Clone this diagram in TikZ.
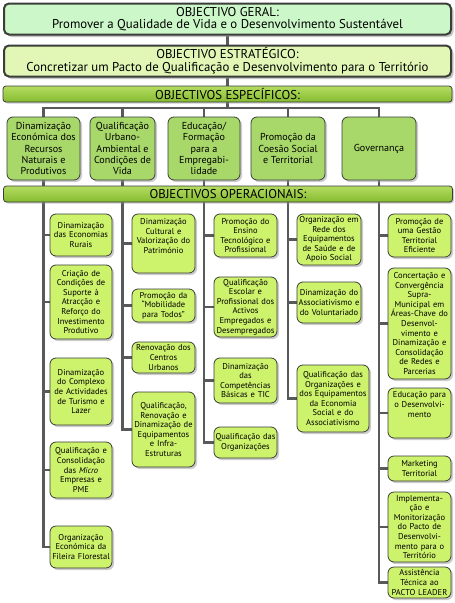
\documentclass[tikz,border=0pt]{standalone}
\usepackage{fontspec}
\setmainfont{PT Sans}
\usepackage{xcolor}
\definecolor{geralFill}{HTML}{CCF7C8}
\definecolor{estratFill}{HTML}{E2F7B6}
\definecolor{barTop}{HTML}{B4DC62}
\definecolor{barBot}{HTML}{86BB30}
\definecolor{specFill}{HTML}{A8D86A}
\definecolor{opFill}{HTML}{CDF26C}
\definecolor{linkGray}{HTML}{58595B}
\definecolor{edgeGray}{HTML}{3A3D38}
\usepackage{tikz}
\usetikzlibrary{shadows, backgrounds}

\newcommand{\boxpad}[1]{\par\rule{0pt}{#1}}

\begin{document}
\begin{tikzpicture}[
    x=1pt, y=-1pt,
    topbox/.style={
        rectangle, rounded corners=5pt, draw=edgeGray, line width=2pt,
        minimum width=447pt, minimum height=31pt, inner sep=1pt,
        align=center, font=\fontsize{12.8}{12.5}\selectfont,
        drop shadow={shadow xshift=2.5pt, shadow yshift=-2.5pt, fill=black!45}
    },
    barbox/.style={
        rectangle, rounded corners=3pt, draw=edgeGray, line width=0.8pt,
        top color=barTop, bottom color=barBot,
        minimum width=449pt, minimum height=16pt, inner sep=0pt,
        font=\fontsize{12.8}{12}\selectfont,
        drop shadow={shadow xshift=1.5pt, shadow yshift=-1.5pt, fill=black!40}
    },
    specbox/.style={
        rectangle, rounded corners=6pt, draw=edgeGray, line width=0.8pt,
        fill=specFill, minimum height=63pt, inner xsep=1pt, inner ysep=2pt,
        align=center, font=\fontsize{10.1}{11.3}\selectfont,
        drop shadow={shadow xshift=2pt, shadow yshift=-2pt, fill=black!40}
    },
    opbox/.style={
        rectangle, rounded corners=6pt, draw=edgeGray, line width=0.8pt,
        fill=opFill, inner xsep=1pt, inner ysep=2pt,
        align=center, font=\fontsize{8.5}{9.6}\selectfont,
        drop shadow={shadow xshift=2pt, shadow yshift=-2pt, fill=black!40}
    },
    link/.style={line width=2.6pt, linkGray}
]
\useasboundingbox (0,0) rectangle (455,603);

%% ---- General and strategic objectives ----
\node[topbox, fill=geralFill]  (og)  at (227.5,19) {OBJECTIVO GERAL:\\Promover a Qualidade de Vida e o Desenvolvimento Sustentável};
\node[topbox, fill=estratFill] (oe)  at (227.5,61) {OBJECTIVO ESTRATÉGICO:\\Concretizar um Pacto de Qualificação e Desenvolvimento para o Território};
\node[barbox]                  (esp) at (227.5,94) {OBJECTIVOS ESPECÍFICOS:};
\coordinate (hub) at (227.5,108);

%% ---- Specific objectives ----
\node[specbox, minimum width=73pt] (sA) at (43.5,148.5)  {Dinamização\\Económica dos\\Recursos\\Naturais e\\Produtivos};
\node[specbox, minimum width=65pt] (sB) at (122.5,148.5) {Qualificação\\Urbano-\\Ambiental e\\Condições de\\Vida};
\node[specbox, minimum width=72pt] (sC) at (204,148.5)   {Educação/\\Formação\\para a\\Empregabi-\\lidade};
\node[specbox, minimum width=74pt] (sD) at (288,148.5)   {Promoção da\\Coesão Social\\e Territorial};
\node[specbox, minimum width=74pt] (sE) at (379,148.5)   {Governança};

\node[barbox] (op) at (228,194) {OBJECTIVOS OPERACIONAIS:};

%% ---- Operational objectives, column 1 ----
\node[opbox, minimum width=62pt, text width=60pt, minimum height=42pt] (o11) at (81,235)   {Dinamização\\das Economias\\Rurais};
\node[opbox, minimum width=62pt, text width=60pt, minimum height=74pt] (o12) at (81,302)   {Criação de\\Condições de\\Suporte à\\Atracção e\\Reforço do\\Investimento\\Produtivo};
\node[opbox, minimum width=62pt, text width=60pt, minimum height=67pt] (o13) at (81,391.5) {Dinamização\\do Complexo\\de Actividades\\de Turismo e\\Lazer};
\node[opbox, minimum width=62pt, text width=60pt, minimum height=56pt] (o14) at (81,470)   {Qualificação e\\Consolidação\\das \textit{Micro}\\Empresas e\\PME};
\node[opbox, minimum width=62pt, text width=60pt, minimum height=42pt] (o15) at (81,547)   {Organização\\Económica da\\Fileira Florestal};

%% ---- Column 2 ----
\node[opbox, minimum width=63pt, text width=61pt, minimum height=59pt] (o21) at (163.5,243.5) {Dinamização\\Cultural e\\Valorização do\\Património\boxpad{14pt}};
\node[opbox, minimum width=63pt, text width=61pt, minimum height=33pt] (o22) at (163.5,305.5) {Promoção da\\“Mobilidade\\para Todos”};
\node[opbox, minimum width=63pt, text width=61pt, minimum height=31pt] (o23) at (163.5,357.5) {Renovação dos\\Centros\\Urbanos};
\node[opbox, minimum width=63pt, text width=61pt, minimum height=75pt] (o24) at (163.5,429.5) {Qualificação,\\Renovação e\\Dinamização de\\Equipamentos\\e Infra-\\Estruturas};

%% ---- Column 3 ----
\node[opbox, minimum width=63pt, text width=61pt, minimum height=43pt] (o31) at (245.5,235.5) {Promoção do\\Ensino\\Tecnológico e\\Profissional};
\node[opbox, minimum width=63pt, text width=61pt, minimum height=60pt] (o32) at (245.5,307)   {Qualificação\\Escolar e\\Profissional dos\\Activos\\Empregados e\\Desempregados};
\node[opbox, minimum width=63pt, text width=61pt, minimum height=45pt] (o33) at (245.5,380.5) {Dinamização\\das\\Competências\\Básicas e TIC};
\node[opbox, minimum width=63pt, text width=61pt, minimum height=31pt] (o34) at (245.5,442.5) {Qualificação das\\Organizações};

%% ---- Column 4 ----
\node[opbox, minimum width=64pt, text width=62pt, minimum height=51pt] (o41) at (329,239.5) {Organização em\\Rede dos\\Equipamentos\\de Saúde e de\\Apoio Social};
\node[opbox, minimum width=64pt, text width=62pt, minimum height=41pt] (o42) at (329,302.5) {Dinamização do\\Associativismo e\\do Voluntariado};
\node[opbox, minimum width=72pt, text width=70pt, minimum height=67pt] (o43) at (333,398.5) {Qualificação das\\Organizações e\\dos Equipamentos\\da Economia\\Social e do\\Associativismo};

%% ---- Column 5 ----
\node[opbox, minimum width=63pt, text width=61pt, minimum height=43pt]  (o51) at (419.5,235.5) {Promoção de\\uma Gestão\\Territorial\\Eficiente};
\node[opbox, minimum width=63pt, text width=61pt, minimum height=111pt] (o52) at (419.5,323.5) {Concertação e\\Convergência\\Supra-\\Municipal em\\Áreas-Chave do\\Desenvol-\\vimento e\\Dinamização e\\Consolidação\\de Redes e\\Parcerias};
\node[opbox, minimum width=63pt, text width=61pt, minimum height=50pt]  (o53) at (419.5,413)   {Educação para\\o Desenvolvi-\\mento\boxpad{16pt}};
\node[opbox, minimum width=63pt, text width=61pt, minimum height=25pt]  (o54) at (419.5,468.5) {Marketing\\Territorial};
\node[opbox, minimum width=63pt, text width=61pt, minimum height=70pt]  (o55) at (419.5,527)   {Implementa-\\ção e\\Monitorização\\do Pacto de\\Desenvolvi-\\mento para o\\Território};
\node[opbox, minimum width=63pt, text width=61pt, minimum height=31pt]  (o56) at (419.5,582.5) {Assistência\\Técnica ao\\PACTO LEADER};

%% ---- Connectors ----
\begin{scope}[on background layer]
\draw[link] (og) -- (oe);
\draw[link] (oe) -- (esp);
\draw[link] (esp) -- (hub);
\foreach \s in {sA,sB,sC,sD,sE}
    \draw[link] (hub) -| (\s.north);
\foreach \s in {sA,sB,sC,sD,sE}
    \draw[link] (\s.south) -- (\s.south |- op.north);
\foreach \s/\o in {sA/o11,sA/o12,sA/o13,sA/o14,sA/o15,
                   sB/o21,sB/o22,sB/o23,sB/o24,
                   sC/o31,sC/o32,sC/o33,sC/o34,
                   sD/o41,sD/o42,sD/o43,
                   sE/o51,sE/o52,sE/o53,sE/o54,sE/o55,sE/o56}
    \draw[link] (\s.south |- op.south) |- (\o.west);
\end{scope}

\end{tikzpicture}
\end{document}
